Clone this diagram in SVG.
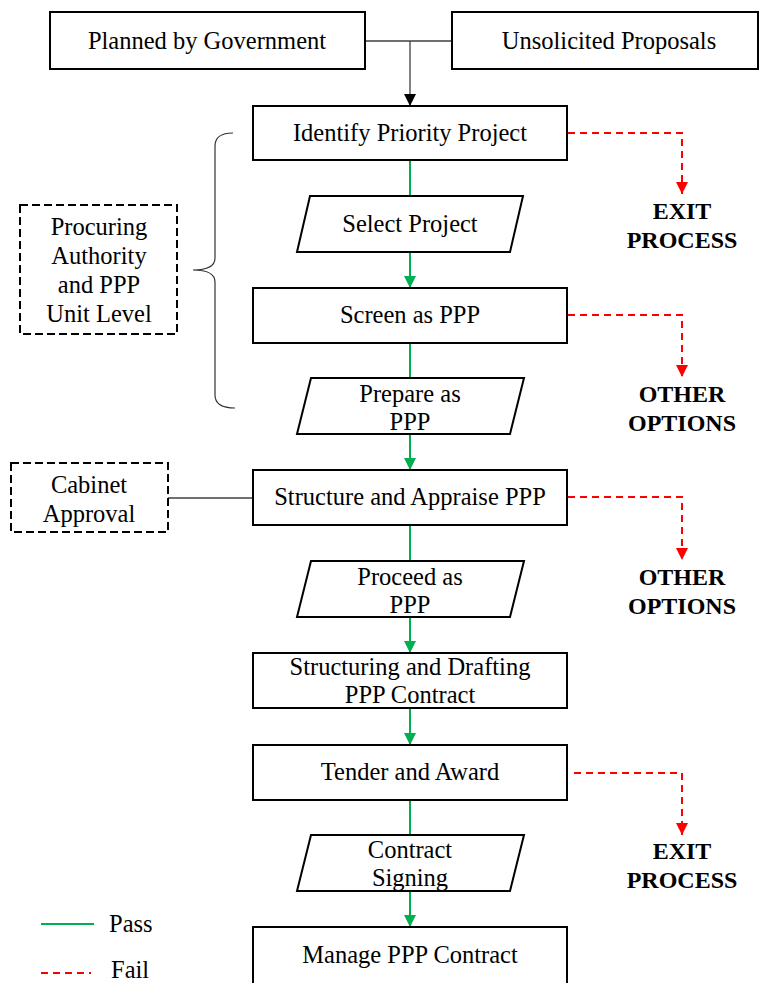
<svg xmlns="http://www.w3.org/2000/svg" width="761" height="983" viewBox="0 0 761 983">
  <style>
    text { font-family: "Liberation Serif", "Times New Roman", serif; font-size: 24.5px; fill: #000; text-anchor: middle; }
    .bold { font-weight: bold; font-size: 24px; }
    .lt { text-anchor: start; }
    .box { fill: #fff; stroke: #000; stroke-width: 2; }
    .dbox { fill: #fff; stroke: #000; stroke-width: 2; stroke-dasharray: 8 4; }
    .pass { stroke: #00B050; stroke-width: 2; fill: none; }
    .fail { stroke: #FF0000; stroke-width: 2; fill: none; stroke-dasharray: 7 5; }
    .thin { stroke: #404040; stroke-width: 1.3; fill: none; }
  </style>
  <defs>
    <marker id="ah-green" markerWidth="12" markerHeight="12" refX="12" refY="6" orient="auto" markerUnits="userSpaceOnUse">
      <path d="M0,0 L12,6 L0,12 Z" fill="#00B050"/>
    </marker>
    <marker id="ah-red" markerWidth="12" markerHeight="12" refX="12" refY="6" orient="auto" markerUnits="userSpaceOnUse">
      <path d="M0,0 L12,6 L0,12 Z" fill="#FF0000"/>
    </marker>
    <marker id="ah-black" markerWidth="12" markerHeight="12" refX="12" refY="6" orient="auto" markerUnits="userSpaceOnUse">
      <path d="M0,0 L12,6 L0,12 Z" fill="#000"/>
    </marker>
  </defs>

  <rect width="761" height="983" fill="#fff"/>

  <!-- connectors -->
  <g id="connectors">
    <path class="thin" d="M365,41 H452 M410,41 V106" marker-end="url(#ah-black)"/>
    <path class="pass" d="M410,160 V196"/>
    <path class="pass" d="M410,252 V288" marker-end="url(#ah-green)"/>
    <path class="pass" d="M410,343 V378"/>
    <path class="pass" d="M410,434 V470" marker-end="url(#ah-green)"/>
    <path class="pass" d="M410,525 V561"/>
    <path class="pass" d="M410,617 V653" marker-end="url(#ah-green)"/>
    <path class="pass" d="M410,708 V745" marker-end="url(#ah-green)"/>
    <path class="pass" d="M410,800 V835"/>
    <path class="pass" d="M410,891 V927" marker-end="url(#ah-green)"/>

    <path class="fail" d="M568,133 H682 V194" marker-end="url(#ah-red)"/>
    <path class="fail" d="M568,315 H682 V377" marker-end="url(#ah-red)"/>
    <path class="fail" d="M568,497 H682 V560" marker-end="url(#ah-red)"/>
    <path class="fail" d="M574,773 H682 V835" marker-end="url(#ah-red)"/>

    <path class="thin" d="M168,498 H253"/>
    <path d="M233,133 Q215,133 215,146 V258 Q215,270 193,270 Q215,270 215,282 V395 Q215,408 235,408" fill="none" stroke="#333" stroke-width="1.2"/>
  </g>

  <!-- source nodes -->
  <g id="planned">
    <rect class="box" x="50" y="12" width="315" height="57"/>
    <text x="207" y="49">Planned by Government</text>
  </g>
  <g id="unsolicited">
    <rect class="box" x="452" y="12" width="306" height="57"/>
    <text x="609" y="49">Unsolicited Proposals</text>
  </g>

  <!-- main process column -->
  <g id="identify">
    <rect class="box" x="253" y="106" width="314" height="54"/>
    <text x="410" y="141">Identify Priority Project</text>
  </g>
  <g id="select">
    <polygon class="box" points="310,196 523,196 510,252 297,252"/>
    <text x="410" y="232">Select Project</text>
  </g>
  <g id="screen">
    <rect class="box" x="253" y="288" width="314" height="55"/>
    <text x="410" y="323">Screen as PPP</text>
  </g>
  <g id="prepare">
    <polygon class="box" points="311,378 524,378 510,434 297,434"/>
    <text x="410" y="402">Prepare as</text>
    <text x="410" y="430">PPP</text>
  </g>
  <g id="structure">
    <rect class="box" x="253" y="470" width="314" height="55"/>
    <text x="410" y="505">Structure and Appraise PPP</text>
  </g>
  <g id="proceed">
    <polygon class="box" points="311,561 524,561 510,617 297,617"/>
    <text x="410" y="585">Proceed as</text>
    <text x="410" y="613">PPP</text>
  </g>
  <g id="drafting">
    <rect class="box" x="253" y="653" width="314" height="55"/>
    <text x="410" y="675">Structuring and Drafting</text>
    <text x="410" y="703">PPP Contract</text>
  </g>
  <g id="tender">
    <rect class="box" x="253" y="745" width="314" height="55"/>
    <text x="410" y="780">Tender and Award</text>
  </g>
  <g id="signing">
    <polygon class="box" points="311,835 524,835 510,891 297,891"/>
    <text x="410" y="858">Contract</text>
    <text x="410" y="886">Signing</text>
  </g>
  <g id="manage">
    <rect class="box" x="253" y="927" width="314" height="60"/>
    <text x="410" y="963">Manage PPP Contract</text>
  </g>

  <!-- outcomes -->
  <g id="exit-1">
    <text class="bold" x="682" y="219">EXIT</text>
    <text class="bold" x="682" y="248">PROCESS</text>
  </g>
  <g id="options-1">
    <text class="bold" x="682" y="402">OTHER</text>
    <text class="bold" x="682" y="431">OPTIONS</text>
  </g>
  <g id="options-2">
    <text class="bold" x="682" y="585">OTHER</text>
    <text class="bold" x="682" y="614">OPTIONS</text>
  </g>
  <g id="exit-2">
    <text class="bold" x="682" y="859">EXIT</text>
    <text class="bold" x="682" y="888">PROCESS</text>
  </g>

  <!-- responsibility levels -->
  <g id="procuring">
    <rect class="dbox" x="20" y="205" width="157" height="129"/>
    <text x="99" y="235">Procuring</text>
    <text x="99" y="264">Authority</text>
    <text x="99" y="293">and PPP</text>
    <text x="99" y="322">Unit Level</text>
  </g>
  <g id="cabinet">
    <rect class="dbox" x="11" y="463" width="157" height="69"/>
    <text x="89" y="493">Cabinet</text>
    <text x="89" y="522">Approval</text>
  </g>

  <!-- legend -->
  <g id="legend">
    <line class="pass" x1="41" y1="924" x2="94" y2="924"/>
    <text class="lt" x="109" y="932">Pass</text>
    <line class="fail" x1="41" y1="973" x2="91" y2="973" stroke-dasharray="6 5"/>
    <text class="lt" x="111" y="978">Fail</text>
  </g>
</svg>
